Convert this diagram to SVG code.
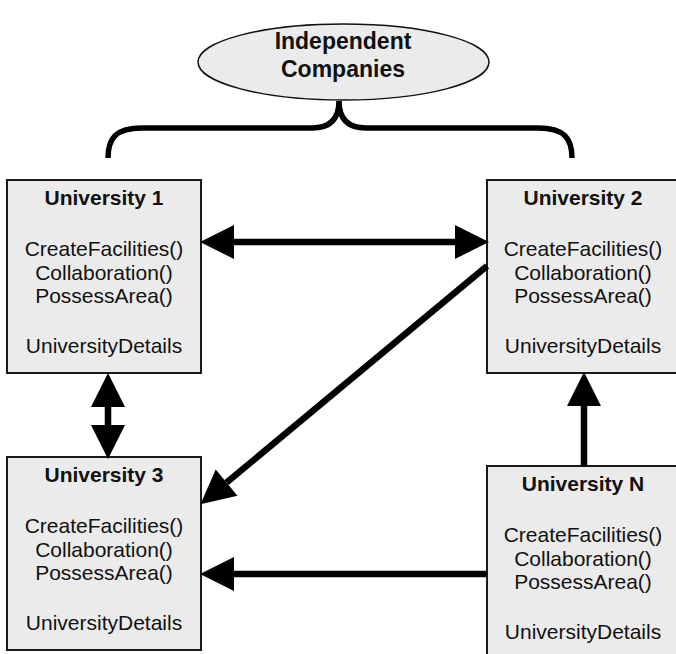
<svg xmlns="http://www.w3.org/2000/svg" width="676" height="654" viewBox="0 0 676 654">
<style>
.box{fill:#ebebeb;stroke:#1a1a1a;stroke-width:2}
.t{font-family:"Liberation Sans",Arial,sans-serif;font-size:21px;fill:#111;text-anchor:middle}
.b{font-weight:bold}
.big{font-family:"Liberation Sans",Arial,sans-serif;font-size:23px;font-weight:bold;fill:#111;text-anchor:middle}
.c{stroke:#000;stroke-width:6.5;fill:none}
</style>
<defs>
<marker id="ah" markerUnits="userSpaceOnUse" markerWidth="34" markerHeight="34" viewBox="0 0 32 32" refX="0" refY="16" orient="auto-start-reverse" overflow="visible">
<path d="M0,0 L32,16 L0,32 z" fill="#000"/>
</marker>
</defs>
<rect width="676" height="654" fill="#fff"/>
<g id="companies">
<ellipse cx="343.5" cy="62" rx="145.5" ry="38" fill="#ebebeb" stroke="#111" stroke-width="1.5"/>
<text class="big" x="343" y="49">Independent</text>
<text class="big" x="343" y="77">Companies</text>
<path d="M108,158 C108,138 116,128 142,128 L312,128 C331,128 339,118 339,101 C339,118 347,128 366,128 L538,128 C564,128 572,138 572,158" fill="none" stroke="#000" stroke-width="5.5"/>
</g>
<g id="university1">
<rect class="box" x="7" y="180" width="194" height="193"/>
<text class="t b" x="104" y="205">University 1</text>
<text class="t" x="104" y="256">CreateFacilities()</text>
<text class="t" x="104" y="280">Collaboration()</text>
<text class="t" x="104" y="303">PossessArea()</text>
<text class="t" x="104" y="353">UniversityDetails</text>
</g>
<g id="university2">
<rect class="box" x="487" y="180" width="194" height="193"/>
<text class="t b" x="583" y="205">University 2</text>
<text class="t" x="583" y="256">CreateFacilities()</text>
<text class="t" x="583" y="280">Collaboration()</text>
<text class="t" x="583" y="303">PossessArea()</text>
<text class="t" x="583" y="353">UniversityDetails</text>
</g>
<g id="university3">
<rect class="box" x="7" y="457" width="194" height="193"/>
<text class="t b" x="104" y="482">University 3</text>
<text class="t" x="104" y="533">CreateFacilities()</text>
<text class="t" x="104" y="557">Collaboration()</text>
<text class="t" x="104" y="580">PossessArea()</text>
<text class="t" x="104" y="630">UniversityDetails</text>
</g>
<g id="universityN">
<rect class="box" x="487" y="466" width="194" height="193"/>
<text class="t b" x="583" y="491">University N</text>
<text class="t" x="583" y="542">CreateFacilities()</text>
<text class="t" x="583" y="566">Collaboration()</text>
<text class="t" x="583" y="589">PossessArea()</text>
<text class="t" x="583" y="639">UniversityDetails</text>
</g>
<g id="connectors">
<line class="c" x1="234" y1="242" x2="455" y2="242" marker-start="url(#ah)" marker-end="url(#ah)"/>
<line class="c" x1="487" y1="266" x2="226.6" y2="482.6" marker-end="url(#ah)"/>
<line class="c" x1="108" y1="407" x2="108" y2="425" marker-start="url(#ah)" marker-end="url(#ah)"/>
<line class="c" x1="584" y1="466" x2="584" y2="406" marker-end="url(#ah)"/>
<line class="c" x1="487" y1="574" x2="234" y2="574" marker-end="url(#ah)"/>
</g>
</svg>
